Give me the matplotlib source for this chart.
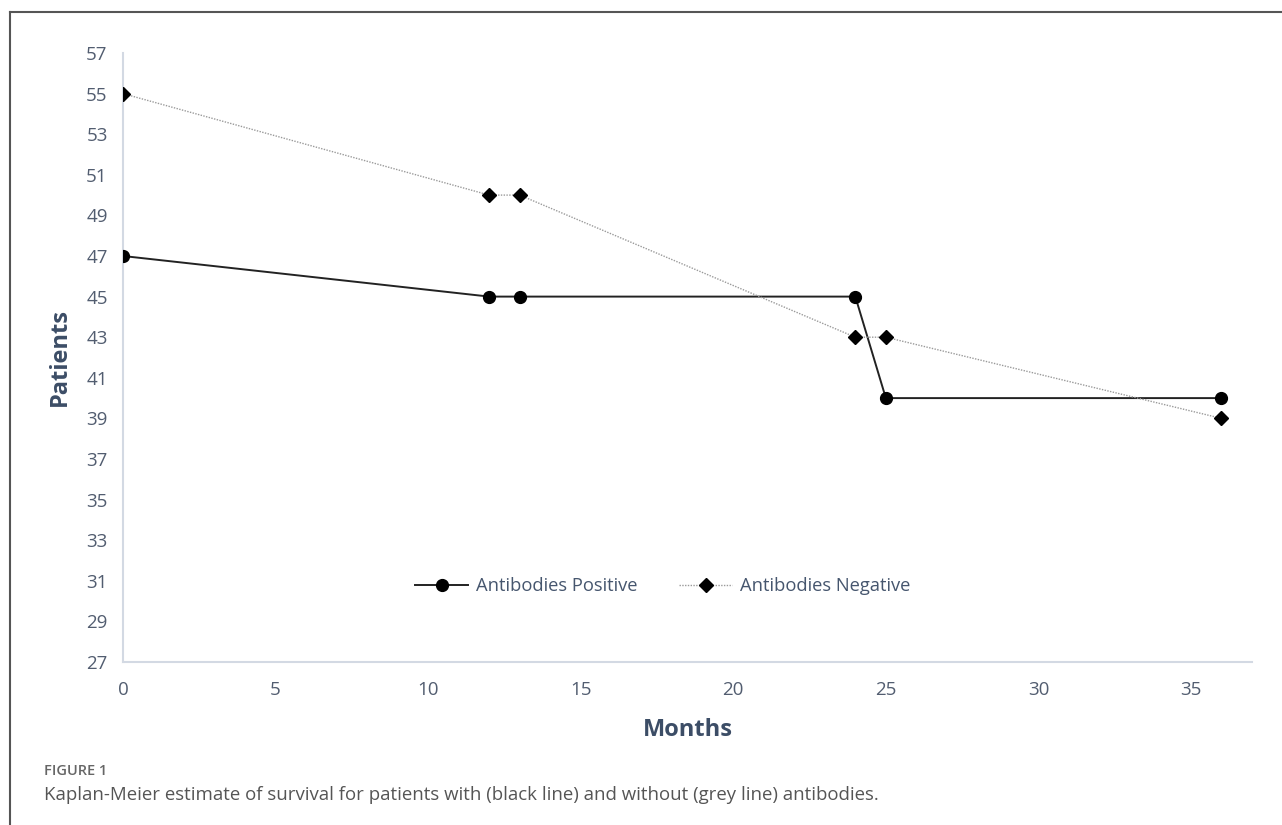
import matplotlib
matplotlib.use("Agg")
import matplotlib.pyplot as plt
from matplotlib.lines import Line2D

months_pos = [0, 12, 13, 24, 25, 36]
patients_pos = [47, 45, 45, 45, 40, 40]
months_neg = [0, 12, 13, 24, 25, 36]
patients_neg = [55, 50, 50, 43, 43, 39]
xticks = [0, 5, 10, 15, 20, 25, 30, 35]
yticks = list(range(27, 58, 2))

plt.rcParams['font.family'] = ['Open Sans', 'DejaVu Sans']

fig = plt.figure(figsize=(12.82, 8.25), dpi=100)
ax = fig.add_axes([123/1282, 1-662/825, (1252-123)/1282, (662-53)/825])

ax.plot(months_pos, patients_pos, color='#222222', lw=1.4, marker='o', ms=8.5,
        mfc='black', mec='black', label='Antibodies Positive', zorder=3)
ax.plot(months_neg, patients_neg, color='#9a9a9a', lw=1.0, ls=(0, (1, 1)), marker='D', ms=7.5,
        mfc='black', mec='black', label='Antibodies Negative', zorder=3)

ax.set_xlim(0, 37)
ax.set_ylim(27, 57)
ax.set_xticks(xticks)
ax.set_yticks(yticks)
for s in ['top', 'right']:
    ax.spines[s].set_visible(False)
for s in ['left', 'bottom']:
    ax.spines[s].set_color('#d3d9e3')
    ax.spines[s].set_linewidth(1.5)
ax.tick_params(length=0, labelsize=13.5, labelcolor='#525d70', pad=11)
ax.tick_params(axis='x', pad=14)
for lbl in ax.get_xticklabels() + ax.get_yticklabels():
    lbl.set_fontweight('medium')
ax.set_xlabel('Months', fontsize=17, fontweight='bold', color='#3c4d66', labelpad=13)
ax.set_ylabel('Patients', fontsize=17, fontweight='bold', color='#3c4d66', labelpad=10)

leg = ax.legend(loc='lower center', bbox_to_anchor=(0.478, 0.083), ncol=2, frameon=False,
                fontsize=13.2, handlelength=2.9, columnspacing=2.3, handletextpad=0.4)
for t in leg.get_texts():
    t.set_color('#46566e')
    t.set_fontweight('medium')

# border
fig.add_artist(Line2D([10/1282, 1], [1-12/825, 1-12/825], color='#555555', lw=1.5, transform=fig.transFigure))
fig.add_artist(Line2D([10/1282, 10/1282], [0, 1-12/825], color='#555555', lw=1.5, transform=fig.transFigure))

fig.text(44/1282, 1-771/825, 'FIGURE 1', fontsize=10.5, fontweight='semibold', color='#666666',
         va='center', ha='left')
fig.text(44/1282, 1-795/825,
         'Kaplan-Meier estimate of survival for patients with (black line) and without (grey line) antibodies.',
         fontsize=13.4, color='#555555', va='center', ha='left')

fig.savefig('out.png', dpi=100)
